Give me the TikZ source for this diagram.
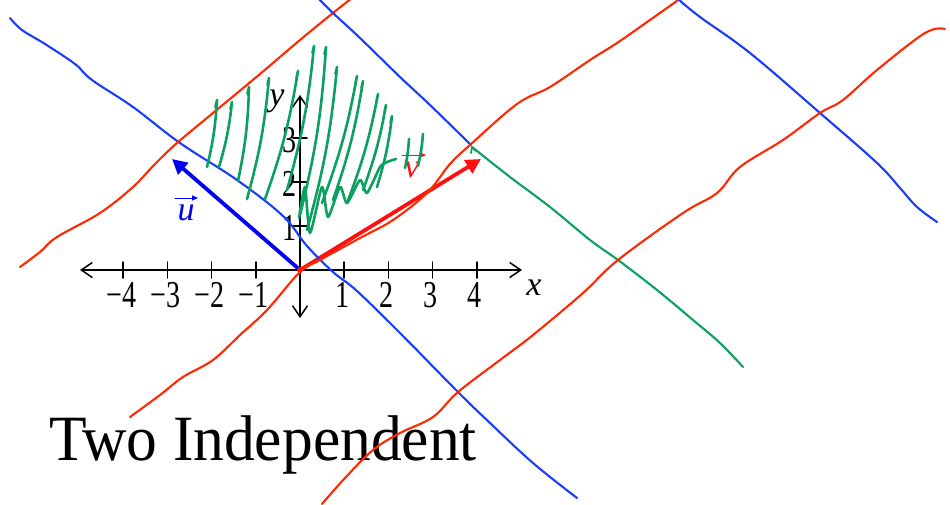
\documentclass[tikz,border=0pt]{standalone}
\usepackage{fontspec}
\setmainfont{Liberation Serif}
\usetikzlibrary{arrows.meta}
\definecolor{bline}{RGB}{25,60,255}
\definecolor{rline}{RGB}{255,40,0}
\definecolor{vblue}{RGB}{0,0,245}
\definecolor{vred}{RGB}{255,15,15}
\definecolor{gpen}{RGB}{10,160,95}
\newcommand\gstroke[4]{\draw[gscrib] ({#1-1.5},{#2+7}) -- (#1,#2) to[bend left=5] (#3,#4);}
\newcommand\numtxt[1]{\scalebox{0.85}[1.15]{\fontsize{33}{33}\selectfont #1}}
\begin{document}
\begin{tikzpicture}[x=1pt,y=-1pt,line cap=round,line join=round,
  hand/.style={line width=2.1pt},
  axisline/.style={line width=1.5pt,{Straight Barb[length=11pt,width=15pt]}-{Straight Barb[length=11pt,width=15pt]}},
  tickmark/.style={line width=1.5pt},
  vecarrow/.style={line width=3.8pt,-{Triangle[length=15pt,width=15pt]}},
  smallvec/.style={line width=1pt,-{Triangle[length=6pt,width=5pt]}},
  gscrib/.style={gpen,line width=2.6pt},
  numlab/.style={inner sep=0pt},
  varlab/.style={font=\fontsize{34}{34}\selectfont\itshape,inner sep=0pt}]
\useasboundingbox (0,0) rectangle (950,504);
\clip (0,0) rectangle (950,504);

% title
\node[anchor=base west,inner sep=0pt] (title) at (49,460) {\scalebox{1}[1.05]{\fontsize{61.5}{62}\selectfont Two Independent}};

% axes
\coordinate (xl) at (80,270); \coordinate (xr) at (522,270);
\coordinate (yt) at (300,95);  \coordinate (yb) at (300,318);
\draw[axisline] (xl) -- (xr);
\draw[axisline] (yb) -- (yt);
\foreach \k/\t in {-4/−4,-3/−3,-2/−2,-1/−1,1/1,2/2,3/3,4/4}{
  \draw[tickmark] ({300+44.2*\k},262) -- ({300+44.2*\k},278);
  \node[numlab] (xt\k) at ({300+44.2*\k-2},295) {\numtxt{\t}};
}
\foreach \k in {1,2,3}{
  \draw[tickmark] (293,{270-44*\k}) -- (307,{270-44*\k});
  \node[numlab,anchor=east] (yt\k) at (297,{272-44*\k}) {\numtxt{\k}};
}
\node[varlab] (xlab) at (534,288) {x};
\node[varlab] (ylab) at (277,101) {y};

% vectors
\coordinate (O) at (300,270);
\coordinate (U) at (172,159);
\coordinate (V) at (481,159);
\draw[vecarrow,vblue] (O) -- (U);
\draw[vecarrow,vred] (O) -- (V);
\fill[vred] (O) circle (3pt);

% vector labels
\node[varlab,text=vblue] (ulab) at (186,213) {u};
\coordinate (ua) at (175,198); \coordinate (ub) at (198,198);
\draw[smallvec,vblue] (ua) -- (ub);
\node[varlab,text=vred] (vlab) at (412,170) {v};
\coordinate (va) at (402,155); \coordinate (vb) at (426,155);
\draw[smallvec,vred] (va) -- (vb);

% hand-drawn lines
\draw[hand,bline] plot[smooth,tension=0.6] coordinates {(10,18) (22,30) (45,44) (75,64) (92,80) (133,107) (180,143) (237,180) (283,216) (307,246) (333,272) (357,291) (400,333) (458,392) (490,423) (533,463) (577,498)};
\draw[hand,rline] plot[smooth,tension=0.6] coordinates {(20,267) (40,252) (57,237) (100,213) (133,187) (155,164) (177,143) (213,113) (260,74) (300,40) (333,13) (352,-2)};
\draw[hand,bline] plot[smooth,tension=0.6] coordinates {(318,-2) (333,13) (360,38) (400,77) (430,105) (471,145)};
\draw[hand,gpen] plot[smooth,tension=0.6] coordinates {(472,147) (510,177) (550,207) (590,240) (618,260) (657,290) (693,320) (720,343) (743,367)};
\draw[hand,rline] plot[smooth,tension=0.6] coordinates {(130,417) (160,395) (183,377) (213,360) (240,335) (267,310) (300,272) (320,260) (360,238) (393,220) (427,193) (450,164) (470,145) (517,104) (550,87) (590,60) (617,43) (650,20) (681,-2)};
\draw[hand,bline] plot[smooth,tension=0.6] coordinates {(678,-1) (700,17) (750,53) (820,113) (877,163) (900,188) (917,207) (937,222)};
\draw[hand,rline] plot[smooth,tension=0.6] coordinates {(322,504) (345,478) (373,450) (400,433) (433,417) (458,392) (500,360) (533,335) (583,293) (618,260) (683,213) (717,193) (740,167) (783,140) (820,113) (843,100) (877,70) (925,33) (945,29)};

% green scribble
\gstroke{217}{100}{207}{167}
\gstroke{232}{102}{219}{167}
\gstroke{249}{87}{238}{181}
\gstroke{269}{78}{247}{199}
\gstroke{298}{71}{265}{199}
\gstroke{314}{46}{287}{190}
\gstroke{326}{47}{300}{215}
\gstroke{337}{67}{307}{230}
\gstroke{357}{76}{322}{203}
\gstroke{363}{81}{333}{200}
\gstroke{378}{94}{347}{203}
\gstroke{386}{105}{363}{190}
\gstroke{392}{116}{377}{187}
\draw[gscrib] plot[smooth,tension=0.4] coordinates {(299,218) (305,187) (310,233) (322,187) (328,217) (340,187) (347,203) (360,180) (367,193) (380,167) (387,162) (396,159)};
\draw[gscrib] (409,139) to[bend left=4] (405,168);
\draw[gscrib] (423,134) to[bend left=4] (418,166);
\draw[gscrib,line width=1.8pt] (471,153) -- (472,147) -- (476,151);
\end{tikzpicture}
\end{document}
